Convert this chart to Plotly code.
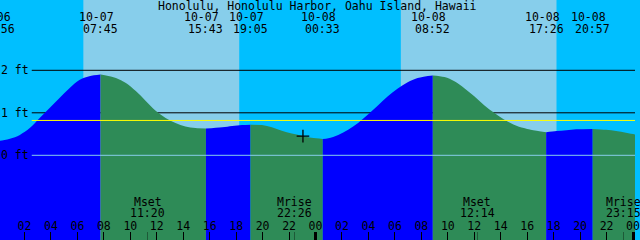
import plotly.graph_objects as go
import pandas as pd

# ---------------- data ----------------
title = "Honolulu, Honolulu Harbor, Oahu Island, Hawaii"
x_range = ["2023-10-07 00:09", "2023-10-09 00:09"]
y_range = [-1.993, 3.654]

# tide extremes (high / low)
tide_times = ["2023-10-06 23:56", "2023-10-07 07:45", "2023-10-07 15:43", "2023-10-07 19:05",
              "2023-10-08 00:33", "2023-10-08 08:52", "2023-10-08 17:26", "2023-10-08 20:57"]
tide_heights = [0.33, 1.90, 0.63, 0.72, 0.385, 1.88, 0.54, 0.62]

# tide curve samples (ft)
sample_times = [
    "2023-10-07 00:09", "2023-10-07 00:54", "2023-10-07 01:39", "2023-10-07 02:24",
    "2023-10-07 03:09", "2023-10-07 03:54", "2023-10-07 04:39", "2023-10-07 05:24",
    "2023-10-07 06:09", "2023-10-07 06:54", "2023-10-07 08:10", "2023-10-07 08:55",
    "2023-10-07 09:40", "2023-10-07 10:25", "2023-10-07 11:10", "2023-10-07 11:55",
    "2023-10-07 12:40", "2023-10-07 13:25", "2023-10-07 14:10", "2023-10-07 14:55",
    "2023-10-07 16:57", "2023-10-07 17:42", "2023-10-07 18:27", "2023-10-07 19:57",
    "2023-10-07 20:42", "2023-10-07 21:27", "2023-10-07 22:12", "2023-10-07 22:57",
    "2023-10-07 23:42", "2023-10-08 00:58", "2023-10-08 01:43", "2023-10-08 02:28",
    "2023-10-08 03:13", "2023-10-08 03:58", "2023-10-08 04:43", "2023-10-08 05:28",
    "2023-10-08 06:13", "2023-10-08 06:58", "2023-10-08 07:43", "2023-10-08 09:45",
    "2023-10-08 10:30", "2023-10-08 11:15", "2023-10-08 12:00", "2023-10-08 12:45",
    "2023-10-08 13:30", "2023-10-08 14:15", "2023-10-08 15:00", "2023-10-08 15:45",
    "2023-10-08 16:16", "2023-10-08 18:13", "2023-10-08 18:58", "2023-10-08 19:43",
    "2023-10-08 21:58", "2023-10-08 22:43", "2023-10-08 23:28", "2023-10-09 00:09",
    "2023-10-09 00:20",
]
sample_heights = [
    0.34, 0.39, 0.48, 0.64,
    0.88, 1.11, 1.35, 1.58,
    1.77, 1.86, 1.88, 1.82,
    1.70, 1.51, 1.28, 1.05,
    0.88, 0.76, 0.68, 0.64,
    0.66, 0.69, 0.71, 0.71,
    0.66, 0.58, 0.51, 0.46,
    0.41, 0.40, 0.48, 0.60,
    0.76, 0.96, 1.17, 1.39,
    1.57, 1.72, 1.82, 1.84,
    1.74, 1.58, 1.39, 1.18,
    1.00, 0.84, 0.72, 0.64,
    0.60, 0.57, 0.59, 0.61,
    0.60, 0.57, 0.53, 0.49,
    0.48,
]

sunrise_times = ["2023-10-07 06:27", "2023-10-08 06:27"]
sunset_times = ["2023-10-07 18:14", "2023-10-08 18:13"]

moon_times = ["2023-10-07 11:20", "2023-10-07 22:26", "2023-10-08 12:14", "2023-10-08 23:15"]
moon_events = ["Mset", "Mrise", "Mset", "Mrise"]

midnights = ["2023-10-08 00:00", "2023-10-09 00:00"]

now_time = "2023-10-07 23:03"
now_height = 0.45
mean_level = 0.82
level_ticks = [0, 1, 2]
level_labels = ["0 ft", "1 ft", "2 ft"]

# ---------------- style ----------------
NIGHT = "#00BFFF"
DAY = "#87CEEB"
RISE = "#0000FF"
FALL = "#2E8B57"
FONT = dict(family="DejaVu Sans Mono", size=11.5, color="black")

fig = go.Figure()

ext = pd.to_datetime(tide_times)
smp = pd.to_datetime(sample_times)
bottom = y_range[0] - 0.5

for i in range(len(ext)):
    start = ext[i]
    end = ext[i + 1] if i + 1 < len(ext) else None
    xs, ys = [start], [tide_heights[i]]
    for t, h in zip(smp, sample_heights):
        if t > start and (end is None or t < end):
            xs.append(t)
            ys.append(h)
    if end is not None:
        xs.append(end)
        ys.append(tide_heights[i + 1])
    rising = ys[-1] > ys[0]
    color = RISE if rising else FALL
    fig.add_trace(go.Scatter(x=[xs[0], xs[-1]], y=[bottom, bottom], mode="lines",
                             line=dict(width=0, color=color), hoverinfo="skip"))
    fig.add_trace(go.Scatter(x=xs, y=ys, mode="lines",
                             line=dict(width=0, shape="spline", color=color),
                             fill="tonexty", fillcolor=color, hoverinfo="skip"))

fig.add_trace(go.Scatter(x=[now_time], y=[now_height], mode="markers",
                         marker=dict(symbol="cross-thin", size=9,
                                     line=dict(width=1.3, color="black")),
                         hoverinfo="skip"))

# helper traces so that the overlay axes exist
fig.add_trace(go.Scatter(x=midnights, y=[bottom] * len(midnights), xaxis="x2",
                         mode="markers", marker=dict(opacity=0), hoverinfo="skip"))
fig.add_trace(go.Scatter(x=moon_times, y=[bottom] * len(moon_times), xaxis="x3",
                         mode="markers", marker=dict(opacity=0), hoverinfo="skip"))
fig.add_trace(go.Scatter(x=midnights, y=[bottom] * len(midnights), xaxis="x4",
                         mode="markers", marker=dict(opacity=0), hoverinfo="skip"))
fig.add_trace(go.Scatter(x=midnights, y=[bottom] * len(midnights), yaxis="y2",
                         mode="markers", marker=dict(opacity=0), hoverinfo="skip"))

shapes = []
for sr, ss in zip(sunrise_times, sunset_times):
    shapes.append(dict(type="rect", xref="x", yref="paper", x0=sr, x1=ss, y0=0, y1=1,
                       fillcolor=DAY, line=dict(width=0), layer="below"))
for lv in level_ticks:
    if lv != 0:
        shapes.append(dict(type="line", xref="paper", yref="y", x0=0.05, x1=1, y0=lv, y1=lv,
                           line=dict(color="black", width=1), layer="below"))
shapes.append(dict(type="line", xref="paper", yref="y", x0=0.05, x1=1, y0=0, y1=0,
                   line=dict(color=DAY, width=1), layer="above"))
shapes.append(dict(type="line", xref="paper", yref="y", x0=0.05, x1=1,
                   y0=mean_level, y1=mean_level,
                   line=dict(color="#FFFF00", width=1), layer="above"))

annotations = [dict(text=title, xref="paper", yref="paper", x=0.5, y=1 - 6 / 240,
                    xanchor="center", yanchor="middle", showarrow=False, font=FONT)]

r0, r1 = pd.Timestamp(x_range[0]), pd.Timestamp(x_range[1])
for t, ts in zip(ext, tide_times):
    date_lbl = t.strftime("%m-%d")
    time_lbl = t.strftime("%H:%M")
    if r0 <= t <= r1:
        xr, xv = "x", ts
    else:
        xr, xv = "paper", (t - r0) / (r1 - r0)
    annotations.append(dict(text=date_lbl, xref=xr, x=xv, yref="paper", y=1 - 16.7 / 240,
                            xanchor="center", yanchor="middle", xshift=-4,
                            showarrow=False, font=FONT))
    annotations.append(dict(text=time_lbl, xref=xr, x=xv, yref="paper", y=1 - 29 / 240,
                            xanchor="center", yanchor="middle",
                            showarrow=False, font=FONT))

for mt, ev in zip(moon_times, moon_events):
    annotations.append(dict(text=ev, xref="x", x=mt, yref="paper", y=1 - 201.5 / 240,
                            xanchor="center", yanchor="middle", showarrow=False, font=FONT))
    annotations.append(dict(text=pd.Timestamp(mt).strftime("%H:%M"), xref="x", x=mt,
                            yref="paper", y=1 - 213 / 240, xanchor="center",
                            yanchor="middle", showarrow=False, font=FONT))

fig.update_layout(
    width=640, height=240, margin=dict(l=0, r=0, t=0, b=0),
    paper_bgcolor=NIGHT, plot_bgcolor=NIGHT, showlegend=False,
    shapes=shapes, annotations=annotations,
    # hour tick marks
    xaxis=dict(type="date", range=x_range, dtick=7200000,
               tick0="2023-10-07 00:00", ticks="inside", ticklen=8, tickwidth=1,
               tickcolor="black", showticklabels=False,
               showgrid=False, zeroline=False, showline=False, fixedrange=True),
    # thick midnight marks
    xaxis2=dict(type="date", range=x_range, overlaying="x", anchor="y", side="bottom",
                tickvals=midnights, ticks="inside", ticklen=8, tickwidth=3,
                tickcolor="black", showticklabels=False, showgrid=False,
                zeroline=False, showline=False, fixedrange=True),
    # moon event marks
    xaxis3=dict(type="date", range=x_range, overlaying="x", anchor="y", side="bottom",
                tickvals=moon_times, ticks="inside", ticklen=8, tickwidth=1,
                tickcolor="rgba(0,0,0,0.35)", showticklabels=False, showgrid=False,
                zeroline=False, showline=False, fixedrange=True),
    # hour labels just above the tick marks
    xaxis4=dict(type="date", range=x_range, overlaying="x", anchor="free",
                position=8 / 240, side="top", tickformat="%H", dtick=7200000,
                tick0="2023-10-07 00:00", ticks="", tickfont=FONT,
                ticklabeloverflow="allow",
                showgrid=False, zeroline=False, showline=False, fixedrange=True),
    yaxis=dict(range=y_range, showticklabels=False, ticks="",
               showgrid=False, zeroline=False, showline=False, fixedrange=True),
    # level labels at the left edge
    yaxis2=dict(range=y_range, overlaying="y", anchor="free", position=0, side="right",
                tickvals=level_ticks, ticktext=level_labels, ticks="", tickfont=FONT,
                ticklabelstandoff=0, ticklabeloverflow="allow",
                showgrid=False, zeroline=False, showline=False, fixedrange=True),
)

fig.write_html("out.html")
